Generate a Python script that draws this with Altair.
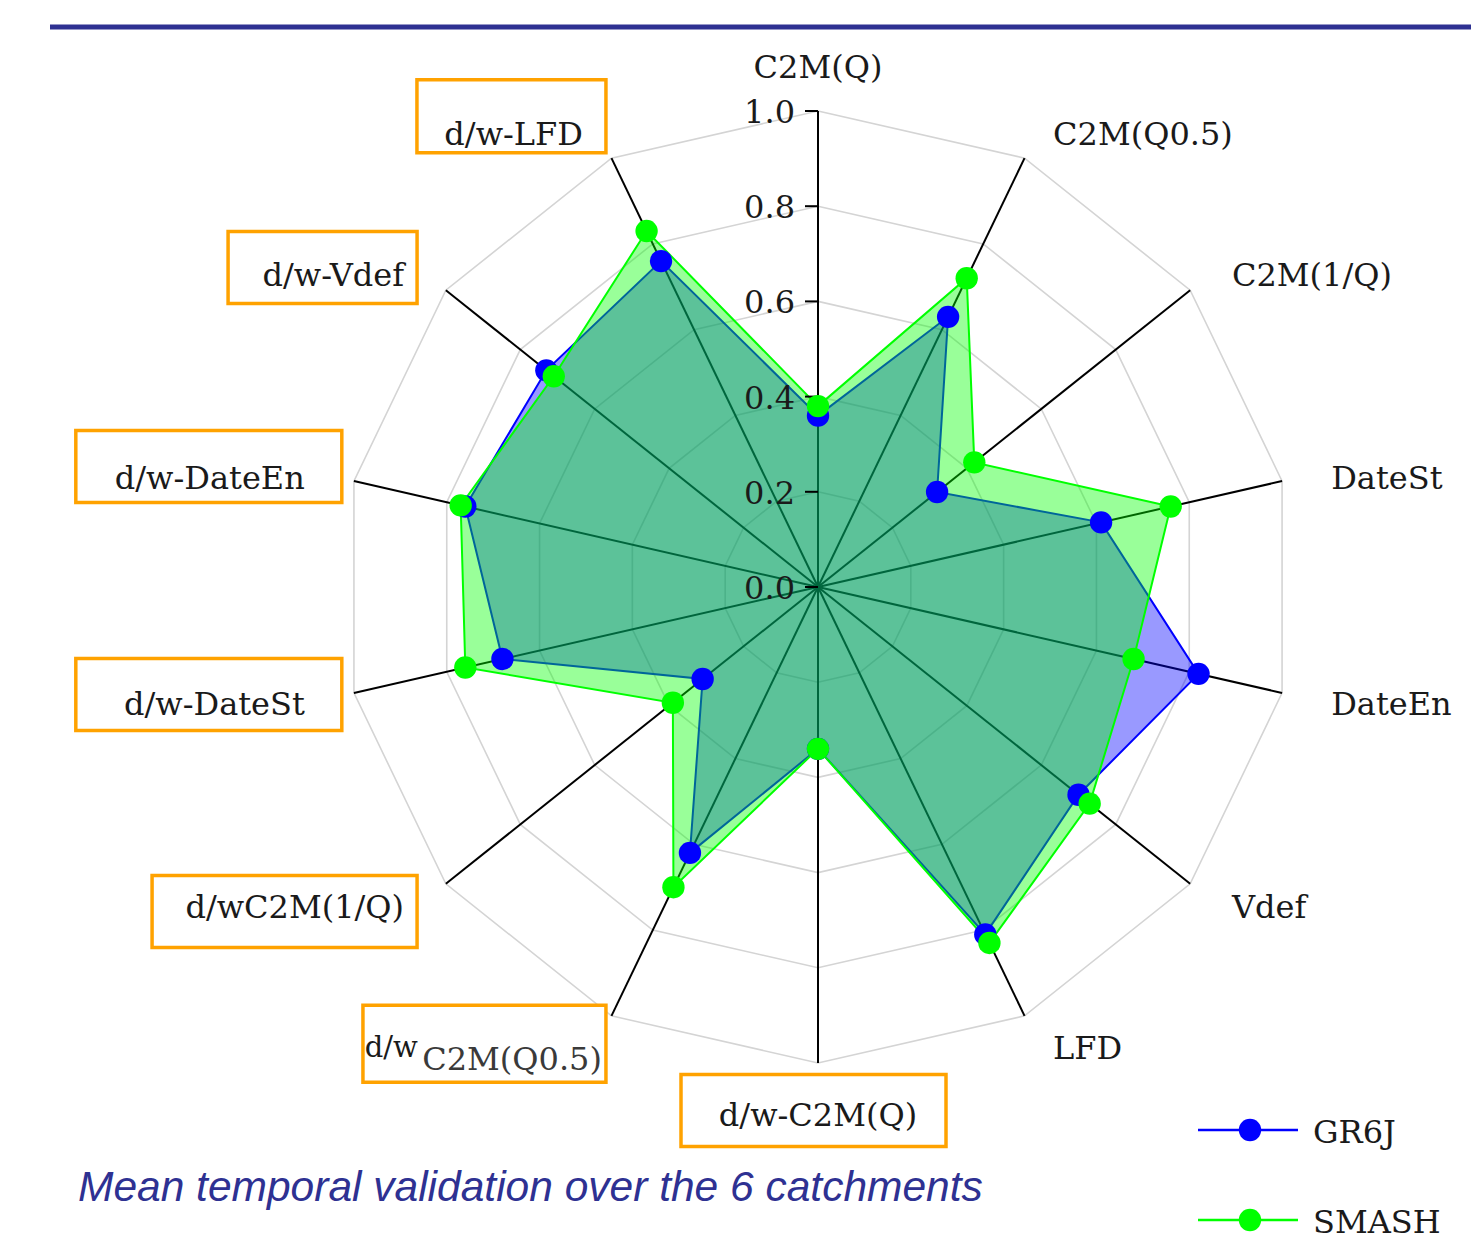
import altair as alt
import pandas as pd

# ---- data -----------------------------------------------------------------
axes = ["C2M(Q)", "C2M(Q0.5)", "C2M(1/Q)", "DateSt", "DateEn", "Vdef", "LFD",
        "d/w-C2M(Q)", "d/wC2M(Q0.5)", "d/wC2M(1/Q)", "d/w-DateSt", "d/w-DateEn",
        "d/w-Vdef", "d/w-LFD"]
gr6j = [0.36, 0.63, 0.32, 0.61, 0.82, 0.70, 0.81, 0.34, 0.62, 0.31, 0.68, 0.76, 0.73, 0.76]
smash = [0.38, 0.72, 0.42, 0.76, 0.68, 0.73, 0.83, 0.34, 0.70, 0.39, 0.76, 0.77, 0.71, 0.83]
series = ["GR6J", "SMASH"]
grid_levels = [0.2, 0.4, 0.6, 0.8, 1.0]
tick_values = [0.0, 0.2, 0.4, 0.6, 0.8, 1.0]
caption = "Mean temporal validation over the 6 catchments"

# ---- styling / layout -------------------------------------------------------
W, H = 1471, 1241
CX, CY, R = 818, 587, 476          # centre and unit radius of the radar, in px
colors = ["#0000ff", "#00ff00"]
NAVY = "#2e3192"
ORANGE = "#ffa200"
SERIF = "DejaVu Serif"
TICK_LEN = 13

# orange frames drawn around the day/week labels (px relative to label anchor)
frame_axes = ["d/w-LFD", "d/w-Vdef", "d/w-DateEn", "d/w-DateSt",
              "d/wC2M(1/Q)", "d/wC2M(Q0.5)", "d/w-C2M(Q)"]
frame_w = [189, 189, 266, 266, 265, 243, 265]
frame_right = [11, 1, 25, 25, 1, 11, 128]
frame_top = [-44, -35, -42, -43, -32, -45, -36]
frame_h = [73, 72, 72, 72, 72, 77, 72]

N = len(axes)
ANG = f"datum.idx * 2 * PI / {N}"

xscale = alt.Scale(domain=[-CX / R, (W - CX) / R], nice=False, zero=False)
yscale = alt.Scale(domain=[-(H - CY) / R, CY / R], nice=False, zero=False)
X = alt.X("px:Q", scale=xscale, axis=None)
Y = alt.Y("py:Q", scale=yscale, axis=None)

axis_df = pd.DataFrame({"axis": axes, "idx": list(range(N))})

rows = []
for name, vals in zip(series, [gr6j, smash]):
    for i, v in enumerate(vals):
        rows.append({"series": name, "axis": axes[i], "idx": i, "value": v})
values_df = pd.DataFrame(rows)

grid_df = pd.DataFrame([{"level": lv, "idx": i} for lv in grid_levels for i in range(N)])
ticks_df = pd.DataFrame({"v": tick_values})

frames_df = pd.DataFrame({"axis": frame_axes, "fw": frame_w, "fr": frame_right,
                          "ft": frame_top, "fh": frame_h})
frames_df = frames_df.merge(axis_df, on="axis")

# ---- layers -----------------------------------------------------------------
grid = alt.Chart(grid_df).transform_calculate(
    a=ANG, px="datum.level * sin(datum.a)", py="datum.level * cos(datum.a)"
).mark_line(interpolate="linear-closed", stroke="#d4d4d4", strokeWidth=1.6).encode(
    x=X, y=Y, detail="level:N", order="idx:Q"
)

spokes = alt.Chart(axis_df).transform_calculate(
    a=ANG, px="0", py="0", px2="sin(datum.a)", py2="cos(datum.a)"
).mark_rule(color="black", strokeWidth=2).encode(
    x=X, y=Y, x2="px2:Q", y2="py2:Q",
)

# radial scale: ticks and labels along the vertical spoke
radial_ticks = alt.Chart(ticks_df).transform_calculate(
    px=f"-{TICK_LEN} / {R}", px2="0", py="datum.v"
).mark_rule(color="black", strokeWidth=2).encode(x=X, x2="px2:Q", y=Y)
radial_labels = alt.Chart(ticks_df).transform_calculate(
    px="0", py="datum.v"
).mark_text(align="right", baseline="middle", dx=-23, dy=2, font=SERIF, fontSize=32,
            color="#1a1a1a").encode(x=X, y=Y, text=alt.Text("v:Q", format=".1f"))

radar_layers = []
for name, c in zip(series, colors):
    radar_layers.append(
        alt.Chart(values_df).transform_filter(alt.datum.series == name).transform_calculate(
            a=ANG, px="datum.value * sin(datum.a)", py="datum.value * cos(datum.a)"
        ).mark_line(interpolate="linear-closed", stroke=c, strokeWidth=2,
                    fill=c, fillOpacity=0.4).encode(x=X, y=Y, order="idx:Q")
    )
point_layers = []
for name, c in zip(series, colors):
    point_layers.append(
        alt.Chart(values_df).transform_filter(alt.datum.series == name).transform_calculate(
            a=ANG, px="datum.value * sin(datum.a)", py="datum.value * cos(datum.a)"
        ).mark_circle(size=500, color=c, opacity=1).encode(x=X, y=Y)
    )

# label anchors: top/bottom labels sit a little further out than side ones
ANCHOR = dict(a=ANG, r="datum.idx % 7 == 0 ? 1.10 : 1.08",
              ry="datum.idx % 7 == 0 ? 1.10 : 1.065")


def label_base(filter_expr):
    return alt.Chart(axis_df).transform_filter(filter_expr).transform_calculate(
        **ANCHOR
    ).transform_calculate(px="datum.r * sin(datum.a)", py="datum.ry * cos(datum.a)")


txt = dict(font=SERIF, fontSize=32, color="#1a1a1a", baseline="middle")
labels_right = label_base("datum.idx >= 1 && datum.idx <= 6").mark_text(
    align="left", dx=12, dy=5, **txt).encode(x=X, y=Y, text="axis:N")
labels_left = label_base("datum.idx > 8").mark_text(
    align="right", dx=-12, dy=5, **txt).encode(x=X, y=Y, text="axis:N")
labels_mid = label_base("datum.idx % 7 == 0").mark_text(
    align="center", dy=5, **txt).encode(x=X, y=Y, text="axis:N")
# the d/w C2M(Q0.5) label is set in two pieces, the prefix raised
odd = alt.Chart(axis_df).transform_filter("datum.idx == 8").transform_calculate(
    **ANCHOR
).transform_calculate(
    px="datum.r * sin(datum.a)", py="datum.r * cos(datum.a)",
    head="slice(datum.axis, 0, 3)", tail="slice(datum.axis, 3)")
odd_tail = odd.mark_text(align="right", dx=7, dy=10, font=SERIF, fontSize=32,
                         color="#3a3a3a", baseline="middle").encode(x=X, y=Y, text="tail:N")
odd_head = odd.mark_text(align="right", dx=-177, dy=-2, font=SERIF, fontSize=29,
                         color="#1a1a1a", baseline="middle").encode(x=X, y=Y, text="head:N")

frames = alt.Chart(frames_df).transform_calculate(**ANCHOR).transform_calculate(
    ax="datum.r * sin(datum.a)", ay="datum.r * cos(datum.a)"
).transform_calculate(
    px=f"datum.ax + (datum.fr - datum.fw) / {R}",
    px2=f"datum.ax + datum.fr / {R}",
    py=f"datum.ay - datum.ft / {R}",
    py2=f"datum.ay - (datum.ft + datum.fh) / {R}",
).mark_rect(fill="white", stroke=ORANGE, strokeWidth=3.5).encode(
    x=X, y=Y, x2="px2:Q", y2="py2:Q"
)

# legend: line + marker + name for each series
one = alt.Data(values=[{}])
legend_layers = []
for k, (name, c) in enumerate(zip(series, colors)):
    ly = 1130 + 90 * k
    legend_layers += [
        alt.Chart(one).mark_rule(color=c, strokeWidth=2.5).encode(
            x=alt.value(1198), x2=alt.value(1298), y=alt.value(ly)),
        alt.Chart(one).mark_circle(size=500, color=c, opacity=1).encode(
            x=alt.value(1250), y=alt.value(ly)),
        alt.Chart(one).mark_text(text=name, align="left", baseline="middle", font=SERIF,
                                 fontSize=32, color="#1a1a1a").encode(
            x=alt.value(1313), y=alt.value(ly + 3)),
    ]

caption_mark = alt.Chart(one).mark_text(
    text=caption, align="left", baseline="alphabetic", font="Liberation Sans",
    fontStyle="italic", fontSize=42.5, color=NAVY
).encode(x=alt.value(78), y=alt.value(1201))

top_bar = alt.Chart(one).mark_rule(color=NAVY, strokeWidth=5).encode(
    x=alt.value(50), x2=alt.value(W), y=alt.value(27))

chart = alt.layer(
    grid, spokes, *radar_layers, radial_ticks, *point_layers, radial_labels, frames,
    labels_right, labels_left, labels_mid, odd_tail, odd_head,
    *legend_layers, caption_mark, top_bar,
).properties(
    width=W, height=H, padding=0, background="white",
    autosize=alt.AutoSizeParams(type="none"),
).configure_view(stroke=None)

chart.save("out.html", embed_options={"renderer": "svg", "actions": False})
